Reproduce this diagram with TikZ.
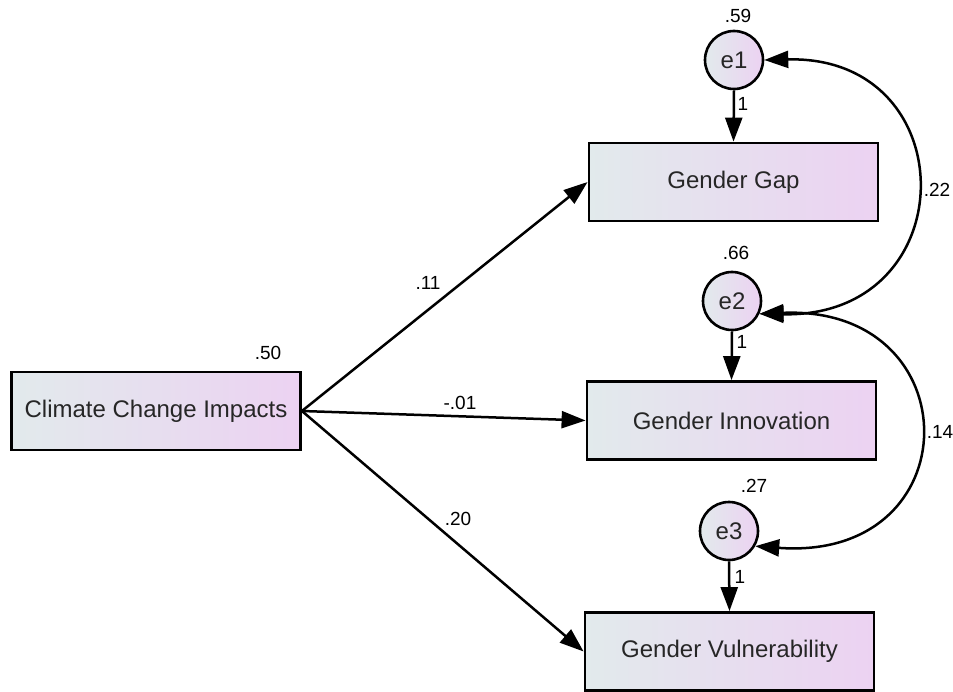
\documentclass[tikz,border=0pt]{standalone}
\usepackage{fontspec}
\setmainfont{Liberation Sans}
\usetikzlibrary{arrows.meta}
\definecolor{gl}{HTML}{E2EAEC}
\definecolor{gr}{HTML}{ECD2F2}
\tikzset{
  var/.style={draw=black, line width=2.8pt, left color=gl, right color=gr, minimum width=289pt, minimum height=78pt, inner sep=0pt, font=\fontsize{24}{28}\selectfont, text=black!85},
  err/.style={circle, draw=black, line width=2.6pt, left color=gl, right color=gr, minimum size=58pt, inner sep=0pt, font=\fontsize{24}{28}\selectfont, text=black!85},
  lab/.style={font=\fontsize{19}{22}\selectfont, inner sep=0pt},
  pth/.style={line width=2.5pt, -{Triangle[length=24pt,width=17pt]}},
  cov/.style={line width=2.5pt, {Triangle[length=24pt,width=17pt]}-{Triangle[length=24pt,width=17pt]}}
}
\begin{document}
\begin{tikzpicture}[x=1pt,y=-1pt]
\useasboundingbox (0,0) rectangle (953,692);
\node[var] (cci) at (156,411) {Climate Change Impacts};
\node[var] (gg) at (733.5,182) {Gender Gap};
\node[var] (gi) at (731.5,420.5) {Gender Innovation};
\node[var] (gv) at (729.5,651.5) {Gender Vulnerability};
\node[err] (e1) at (734,60) {e1};
\node[err] (e2) at (732,301) {e2};
\node[err] (e3) at (729,531) {e3};
\node[lab] (v50) at (268,353) {.50};
\node[lab] (v59) at (738,16) {.59};
\node[lab] (v66) at (736,253) {.66};
\node[lab] (v27) at (754,486) {.27};
\node[lab] (l11) at (428,283) {.11};
\node[lab] (l01) at (460,403) {-.01};
\node[lab] (l20) at (458,519) {.20};
\node[lab] (o1) at (743,104) {1};
\node[lab] (o2) at (742,342) {1};
\node[lab] (o3) at (740,577) {1};
\node[lab] (c22) at (937,190) {.22};
\node[lab] (c14) at (940,432) {.14};
\draw[pth] (cci.east) -- (gg.west);
\draw[pth] (cci.east) -- (gi.west);
\draw[pth] (cci.east) -- (gv.west);
\draw[pth] (e1.south) -- (gg.north);
\draw[pth] (e2.south) -- (gi.north);
\draw[pth] (e3.south) -- (gv.north);
\draw[cov] (e1.east) .. controls (966,55) and (966,318) .. (e2.-25);
\draw[cov] (e2.-25) .. controls (972,305) and (972,562) .. (e3.-30);
\end{tikzpicture}
\end{document}
